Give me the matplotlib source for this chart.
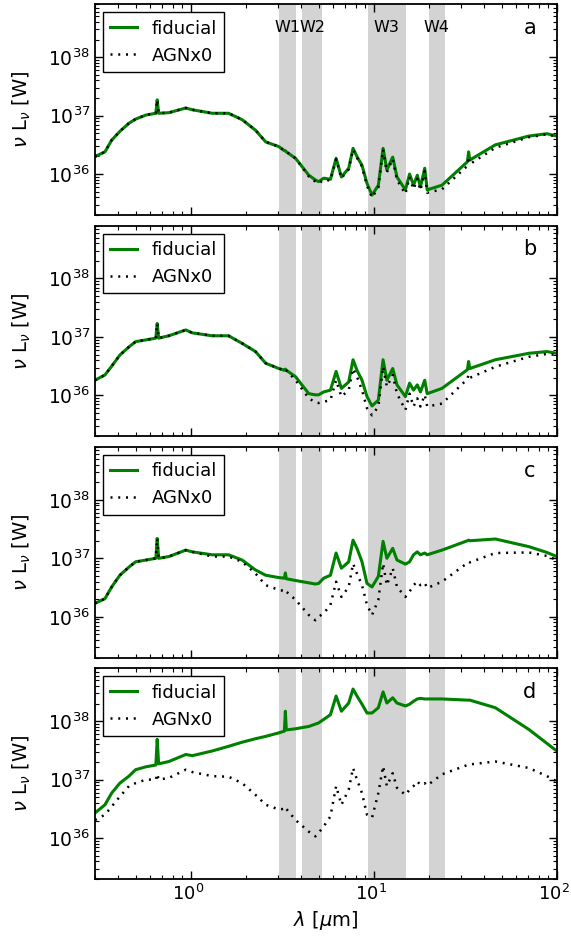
import numpy as np
import matplotlib
matplotlib.use('Agg')
import matplotlib.pyplot as plt
import matplotlib.transforms as mtransforms

# wavelength grid [micron]
wave = [0.30, 0.34, 0.37, 0.41, 0.46, 0.50, 0.57, 0.645, 0.656, 0.668,
        0.76, 0.94, 1.02, 1.31, 1.61, 1.91, 2.26, 2.57, 3.03, 3.25,
        3.29, 3.33, 3.74, 4.42, 4.8, 5.0, 5.33, 5.8, 6.23, 6.66,
        7.3, 7.71, 8.1, 8.63, 9.19, 9.79, 10.6, 11.25, 11.8, 12.7,
        13.4, 14.9, 15.7, 16.5, 17.3, 18.0, 19.0, 19.6, 23.6, 32.5,
        33.0, 33.5, 46.2, 70.3, 88.4, 100.0]

# log10(nu L_nu / W)
a_fid = [36.30, 36.38, 36.58, 36.73, 36.87, 36.94, 37.01, 37.04, 37.27, 37.04,
         37.05, 37.13, 37.10, 37.04, 37.04, 36.93, 36.75, 36.55, 36.47, 36.40,
         36.40, 36.38, 36.27, 35.98, 35.90, 35.87, 35.93, 35.91, 36.27, 35.95,
         36.10, 36.44, 36.30, 36.15, 35.84, 35.64, 35.81, 36.44, 36.07, 36.29,
         35.95, 35.73, 36.00, 35.81, 35.98, 35.78, 36.10, 35.73, 35.81, 36.21,
         36.38, 36.24, 36.50, 36.65, 36.69, 36.65]
a_agn = [36.30, 36.38, 36.58, 36.73, 36.87, 36.94, 37.01, 37.04, 37.27, 37.04,
         37.05, 37.13, 37.10, 37.04, 37.04, 36.93, 36.75, 36.55, 36.47, 36.40,
         36.40, 36.38, 36.27, 35.96, 35.87, 35.84, 35.90, 35.89, 36.25, 35.93,
         36.08, 36.42, 36.28, 36.13, 35.80, 35.60, 35.77, 36.42, 36.03, 36.26,
         35.90, 35.66, 35.95, 35.74, 35.92, 35.72, 36.05, 35.68, 35.74, 36.14,
         36.30, 36.17, 36.45, 36.63, 36.68, 36.64]

b_fid = [36.26, 36.35, 36.50, 36.69, 36.83, 36.92, 36.95, 36.98, 37.23, 36.98,
         37.02, 37.12, 37.07, 37.02, 37.02, 36.89, 36.75, 36.55, 36.46, 36.43,
         36.45, 36.43, 36.32, 36.03, 36.01, 36.01, 36.06, 36.09, 36.41, 36.12,
         36.23, 36.61, 36.43, 36.26, 35.98, 35.82, 35.92, 36.61, 36.26, 36.46,
         36.18, 35.98, 36.21, 36.09, 36.18, 36.06, 36.26, 36.03, 36.12, 36.44,
         36.58, 36.46, 36.61, 36.72, 36.75, 36.72]
b_agn = [36.26, 36.35, 36.50, 36.69, 36.83, 36.92, 36.95, 36.98, 37.23, 36.98,
         37.02, 37.12, 37.07, 37.02, 37.02, 36.89, 36.75, 36.55, 36.46, 36.43,
         36.45, 36.43, 36.26, 35.95, 35.88, 35.87, 35.89, 35.92, 36.26, 35.98,
         36.09, 36.46, 36.32, 36.09, 35.78, 35.66, 35.81, 36.49, 36.15, 36.35,
         36.03, 35.75, 36.03, 35.81, 35.95, 35.81, 36.01, 35.81, 35.86, 36.28,
         36.36, 36.30, 36.49, 36.66, 36.71, 36.69]

c_fid = [36.23, 36.31, 36.51, 36.71, 36.85, 36.94, 36.97, 37.00, 37.34, 37.00,
         37.03, 37.14, 37.11, 37.06, 37.06, 36.97, 36.80, 36.71, 36.67, 36.66,
         36.75, 36.65, 36.62, 36.58, 36.56, 36.57, 36.66, 36.71, 37.09, 36.83,
         36.94, 37.31, 37.17, 36.94, 36.57, 36.51, 36.69, 37.29, 37.00, 37.17,
         36.97, 36.90, 36.94, 37.06, 37.11, 37.06, 37.09, 37.06, 37.14, 37.30,
         37.31, 37.30, 37.33, 37.20, 37.10, 37.03]
c_agn = [36.23, 36.31, 36.51, 36.71, 36.85, 36.94, 36.97, 37.00, 37.34, 37.00,
         37.03, 37.14, 37.11, 37.03, 37.03, 36.94, 36.74, 36.54, 36.46, 36.44,
         36.46, 36.43, 36.29, 36.03, 35.94, 36.00, 36.06, 36.20, 36.60, 36.34,
         36.51, 36.91, 36.74, 36.54, 36.20, 36.03, 36.29, 36.91, 36.54, 36.83,
         36.51, 36.34, 36.43, 36.54, 36.60, 36.54, 36.58, 36.49, 36.60, 36.92,
         36.94, 36.93, 37.09, 37.10, 37.04, 36.97]

d_fid = [36.43, 36.57, 36.77, 36.94, 37.06, 37.17, 37.22, 37.25, 37.69, 37.27,
         37.31, 37.43, 37.41, 37.49, 37.57, 37.64, 37.70, 37.74, 37.80, 37.83,
         38.17, 37.85, 37.87, 37.91, 37.95, 37.97, 38.03, 38.11, 38.43, 38.17,
         38.31, 38.55, 38.43, 38.29, 38.14, 38.14, 38.23, 38.50, 38.31, 38.40,
         38.31, 38.26, 38.29, 38.34, 38.38, 38.39, 38.38, 38.38, 38.38, 38.36,
         38.36, 38.36, 38.23, 37.86, 37.62, 37.49]
d_agn = [36.31, 36.40, 36.54, 36.71, 36.89, 36.94, 37.00, 37.00, 37.10, 37.00,
         37.03, 37.17, 37.13, 37.06, 37.05, 36.94, 36.74, 36.57, 36.49, 36.50,
         36.53, 36.50, 36.31, 36.11, 36.03, 36.09, 36.20, 36.37, 36.89, 36.57,
         36.83, 37.20, 37.00, 36.77, 36.40, 36.35, 36.77, 37.23, 36.89, 37.11,
         36.86, 36.74, 36.83, 36.89, 36.97, 36.91, 36.94, 36.90, 37.09, 37.25,
         37.26, 37.26, 37.31, 37.20, 37.06, 36.97]

# WISE bands
band_lo = [3.03, 4.08, 9.27, 20.0]
band_hi = [3.77, 5.23, 15.0, 24.5]
band_names = ['W1', 'W2', 'W3', 'W4']
panel_names = ['a', 'b', 'c', 'd']

fid_all = [a_fid, b_fid, c_fid, d_fid]
agn_all = [a_agn, b_agn, c_agn, d_agn]

fig, axes = plt.subplots(4, 1, figsize=(5.71, 9.43), dpi=100, sharex=True)
fig.subplots_adjust(left=0.1664, right=0.975, top=0.9954, bottom=0.0679, hspace=0.051)

for i, ax in enumerate(axes):
    for lo, hi in zip(band_lo, band_hi):
        ax.axvspan(lo, hi, color='lightgray', lw=0, zorder=0)
    ax.plot(wave, 10 ** np.array(fid_all[i]), color='green', lw=2.2, label='fiducial', zorder=2)
    ax.plot(wave, 10 ** np.array(agn_all[i]), color='k', lw=1.8, dashes=(0.8, 2.3),
            label='AGNx0', zorder=3)
    ax.set_xscale('log')
    ax.set_yscale('log')
    ax.set_xlim(0.3, 100)
    ax.set_ylim(2e35, 8e38)
    ax.tick_params(which='both', direction='in', top=True, right=True)
    ax.tick_params(axis='y', labelsize=13.5)
    ax.tick_params(axis='x', labelsize=13)
    ax.tick_params(which='major', length=6, width=1)
    ax.tick_params(which='minor', length=3, width=0.8)
    for sp in ax.spines.values():
        sp.set_linewidth(1.3)
    ax.set_ylabel(r'$\nu$ L$_\nu$ [W]', fontsize=14, labelpad=11)
    leg = ax.legend(loc='upper left', fontsize=13, fancybox=False, framealpha=1,
                    edgecolor='k', handlelength=1.5, borderaxespad=0.45)
    leg.get_frame().set_linewidth(1.0)
    ax.text(0.942, 0.888, panel_names[i], transform=ax.transAxes, fontsize=15,
            ha='center', va='center')

# band labels on top panel
for lo, hi, name in zip(band_lo, band_hi, band_names):
    axes[0].text(np.sqrt(lo * hi), 0.888, name, transform=axes[0].get_xaxis_transform(),
                 fontsize=11.5, ha='center', va='center')

axes[-1].set_xlabel(r'$\lambda$ [$\mu$m]', fontsize=14)

# nudge the x tick labels a touch left so 10^2 stays inside the figure
shift = mtransforms.ScaledTranslation(-0.025, 0, fig.dpi_scale_trans)
for lab in axes[-1].get_xticklabels():
    lab.set_transform(lab.get_transform() + shift)

fig.savefig('out.png', dpi=100)
